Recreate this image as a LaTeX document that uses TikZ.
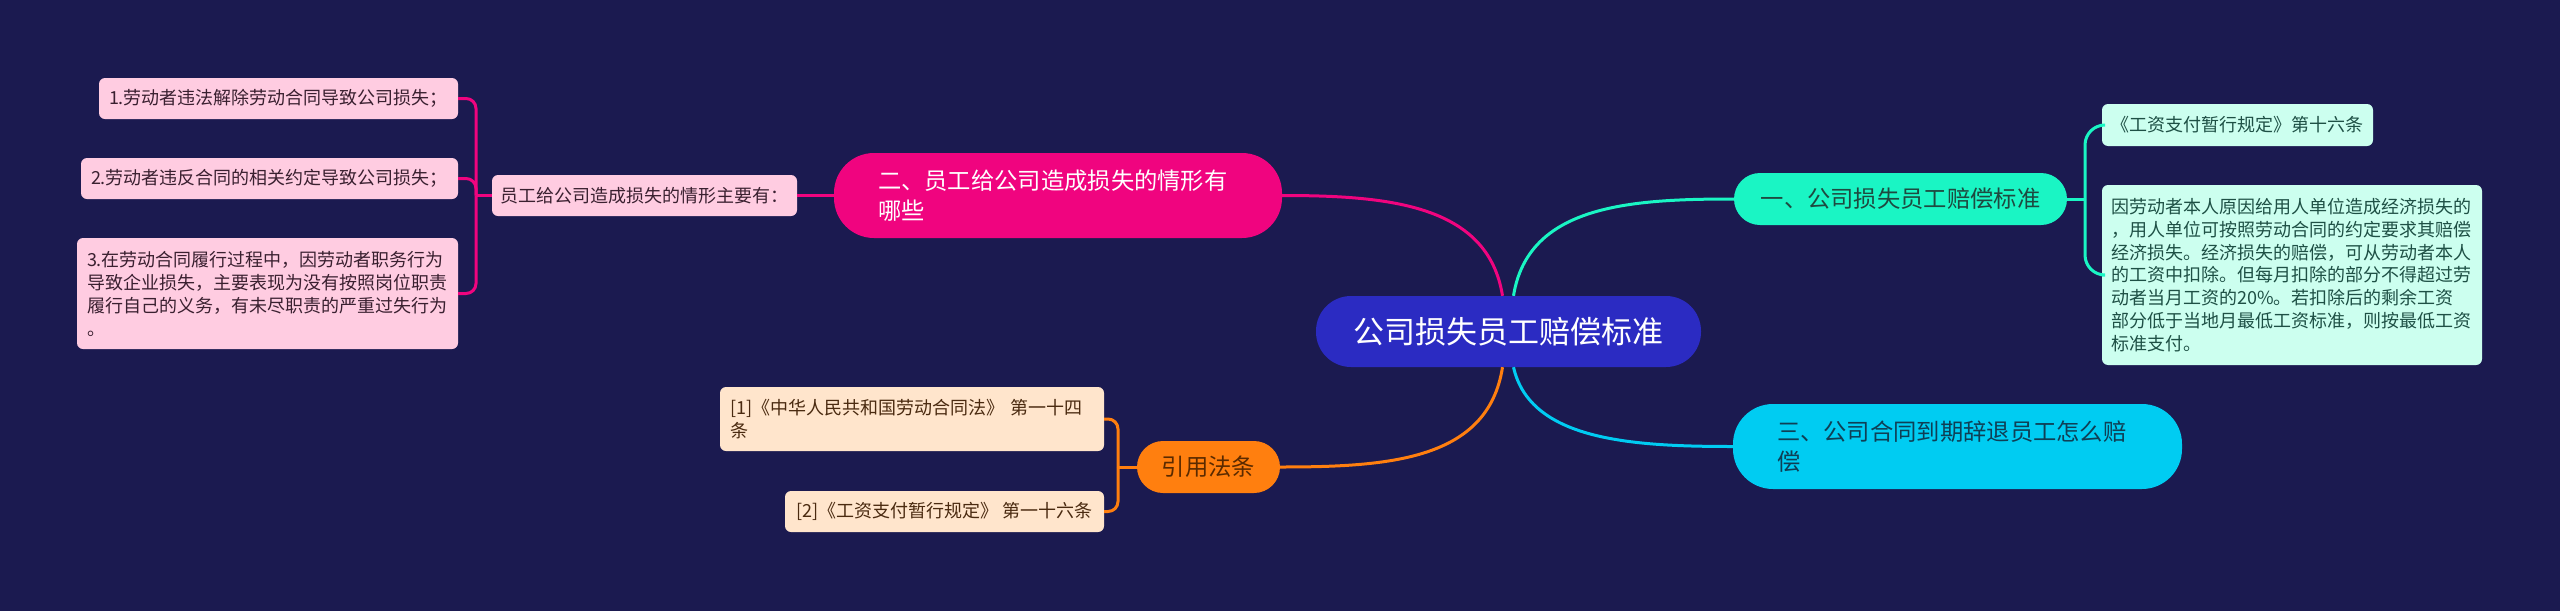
\documentclass[tikz,border=0pt]{standalone}
\usepackage{fontspec}
\setmainfont{Noto Sans CJK SC}
\usepackage{xcolor}

\definecolor{bgnavy}{HTML}{1B1A50}
\definecolor{rootblue}{HTML}{2B2BC2}
\definecolor{pinkmain}{HTML}{F0047F}
\definecolor{pinkleaf}{HTML}{FFCCE1}
\definecolor{pinktext}{HTML}{3A2030}
\definecolor{tealmain}{HTML}{1AF5C4}
\definecolor{tealtext}{HTML}{1E4A40}
\definecolor{cyanmain}{HTML}{00CCF2}
\definecolor{cyantext}{HTML}{0F3F55}
\definecolor{mintleaf}{HTML}{CCFFEF}
\definecolor{minttext}{HTML}{1E5045}
\definecolor{orangemain}{HTML}{FF7F0F}
\definecolor{orangetext}{HTML}{5A2A00}
\definecolor{peachleaf}{HTML}{FFE5CC}
\definecolor{peachtext}{HTML}{4A2A10}

\begin{document}
\begin{tikzpicture}[x=1pt,y=-1pt,
		leaf/.style={rounded corners=6pt,inner sep=0pt,font=\fontsize{18}{23}\selectfont},
		pill/.style={inner sep=0pt,font=\fontsize{23.3}{30}\selectfont},
		link/.style={line width=3pt}]
		
		% Background
		\fill[bgnavy] (0,0) rectangle (2560,611);
		\useasboundingbox (0,0) rectangle (2560,611);
		
		% Root
		\node[pill,fill=rootblue,text=white,rounded corners=35pt,minimum width=385pt,minimum height=71pt,font=\fontsize{31}{36}\selectfont] (root) at (1508.5,331.5) {公司损失员工赔偿标准};
		
		% Main branches
		\node[pill,fill=tealmain,text=tealtext,rounded corners=26pt,minimum width=333pt,minimum height=52pt] (std) at (1900.5,199) {一、公司损失员工赔偿标准};
		\node[pill,fill=pinkmain,text=white,rounded corners=40pt,minimum height=85pt,inner xsep=44pt,text width=360pt,align=left] (why) at (1058,195.5) {二、员工给公司造成损失的情形有\\哪些};
		\node[pill,fill=cyanmain,text=cyantext,rounded corners=40pt,minimum height=85pt,inner xsep=44pt,text width=361pt,align=left] (quit) at (1957.5,446.5) {三、公司合同到期辞退员工怎么赔\\偿};
		\node[pill,fill=orangemain,text=orangetext,rounded corners=26pt,minimum width=143pt,minimum height=52pt] (laws) at (1208.5,467) {引用法条};
		
		% Leaves of 二
		\node[leaf,fill=pinkleaf,text=pinktext,minimum width=305pt,minimum height=41pt] (sub) at (644.5,195.5) {员工给公司造成损失的情形主要有：};
		\node[leaf,fill=pinkleaf,text=pinktext,minimum width=359pt,minimum height=41pt] (lose1) at (278.5,98.5) {1.劳动者违法解除劳动合同导致公司损失；};
		\node[leaf,fill=pinkleaf,text=pinktext,minimum width=377pt,minimum height=41pt] (lose2) at (269.5,178.5) {2.劳动者违反合同的相关约定导致公司损失；};
		\node[leaf,fill=pinkleaf,text=pinktext,minimum height=111pt,inner xsep=10pt,text width=361pt,align=left] (lose3) at (267.5,293.5) {3.在劳动合同履行过程中，因劳动者职务行为\\导致企业损失，主要表现为没有按照岗位职责\\履行自己的义务，有未尽职责的严重过失行为\\。};
		
		% Leaves of 一
		\node[leaf,fill=mintleaf,text=minttext,minimum width=271pt,minimum height=42pt] (rule) at (2237.5,125) {《工资支付暂行规定》第十六条};
		\node[leaf,fill=mintleaf,text=minttext,minimum height=180pt,inner xsep=9pt,text width=362pt,align=left,font=\fontsize{18}{22.8}\selectfont] (detail) at (2292,275) {因劳动者本人原因给用人单位造成经济损失的\\，用人单位可按照劳动合同的约定要求其赔偿\\经济损失。经济损失的赔偿，可从劳动者本人\\的工资中扣除。但每月扣除的部分不得超过劳\\动者当月工资的20\%。若扣除后的剩余工资\\部分低于当地月最低工资标准，则按最低工资\\标准支付。};
		
		% Leaves of 引用法条
		\node[leaf,fill=peachleaf,text=peachtext,minimum height=64pt,inner xsep=10pt,text width=364pt,align=left] (law1) at (912,419) {[1]《中华人民共和国劳动合同法》 第一十四\\条};
		\node[leaf,fill=peachleaf,text=peachtext,minimum width=319pt,minimum height=41pt] (law2) at (944.5,511.5) {[2]《工资支付暂行规定》 第一十六条};
		
		% Root to branches
		\draw[link,pinkmain] ([xshift=-6pt]root.north) .. controls (1488,205) and (1390,195.5) .. (why.east);
		\draw[link,tealmain] ([xshift=5pt]root.north) .. controls (1528,205) and (1630,199) .. (std.west);
		\draw[link,cyanmain] ([xshift=5pt]root.south) .. controls (1530,440) and (1630,446.5) .. (quit.west);
		\draw[link,orangemain] ([xshift=-6pt]root.south) .. controls (1488,460) and (1390,467) .. (laws.east);
		
		% Brackets
		\coordinate (lj) at (476,195.5);
		\draw[link,pinkmain] (why.west) -- (sub.east);
		\draw[link,pinkmain] (sub.west) -- (lj);
		\foreach \n in {lose1,lose2,lose3}
			\draw[link,pinkmain,rounded corners=10pt] (lj) |- (\n.east);
		
		\coordinate (rj) at (2085,199);
		\draw[link,tealmain] (std.east) -- (rj);
		\foreach \n in {rule,detail}
			\draw[link,tealmain,rounded corners=20pt] (rj) |- (\n.west);
		
		\coordinate (oj) at (1118,467);
		\draw[link,orangemain] (laws.west) -- (oj);
		\foreach \n in {law1,law2}
			\draw[link,orangemain,rounded corners=10pt] (oj) |- (\n.east);
		
	\end{tikzpicture}
\end{document}
